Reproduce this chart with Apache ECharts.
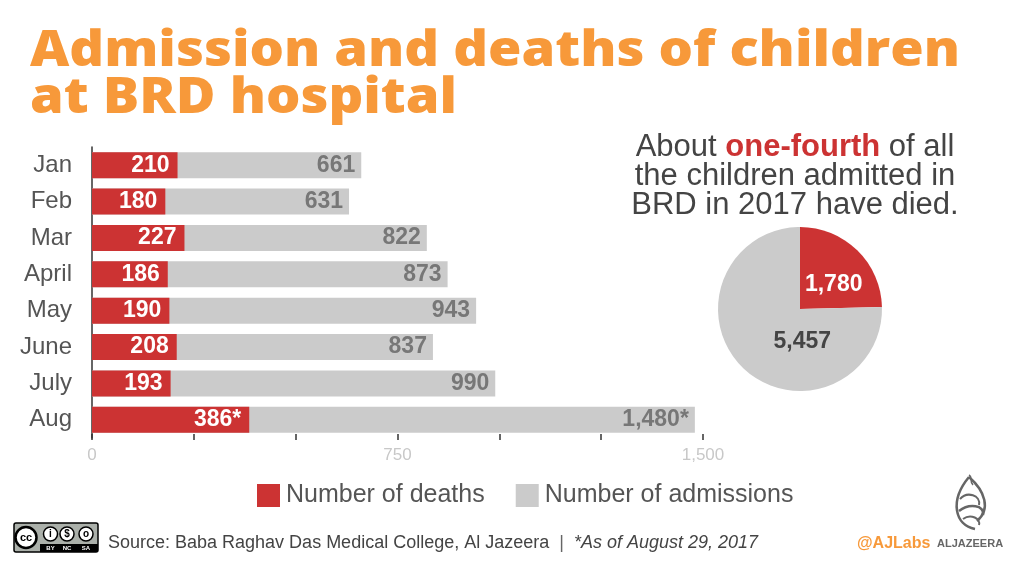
<!DOCTYPE html>
<html>
<head>
<meta charset="utf-8">
<script src="https://cdn.jsdelivr.net/npm/echarts@6/dist/echarts.min.js"></script>
<style>
  html, body { margin: 0; padding: 0; background: #fff; }
  #chart { width: 1015px; height: 561px; }
</style>
</head>
<body>
<div id="chart"></div>
<script>
var chartDom = document.getElementById("chart")
var chart = echarts.init(chartDom)

// data
var months = ["Jan", "Feb", "Mar", "April", "May", "June", "July", "Aug"]
var deaths = [210, 180, 227, 186, 190, 208, 193, 386]
var admissions = [661, 631, 822, 873, 943, 837, 990, 1480]
var starred = [false, false, false, false, false, false, false, true]
var pieNames = ["Deaths", "Survived"]
var pieValues = [1780, 5457]
var axisLabels = ["0", "750", "1,500"]

var RED = "#cc3333"
var GREY = "#cbcbcb"
var sans = "'Liberation Sans', Arial, sans-serif"
var heavy = "'Open Sans', 'Liberation Sans', sans-serif"

function fmt(n) {
  return n.toLocaleString("en-US")
}

function barLabel(p) {
  return fmt(p.value) + (starred[p.dataIndex] ? "*" : "")
}

var pieData = pieValues.map(function (v, i) {
  return {
    name: pieNames[i],
    value: v,
    itemStyle: { color: i === 0 ? RED : GREY },
    label: {
      color: i === 0 ? "#fff" : "#444",
      offset: i === 0 ? [3, 7] : [33, 1],
    },
  }
})

var option = {
  backgroundColor: "#fff",
  animation: false,
  legend: {
    left: 257,
    top: 483,
    padding: 0,
    itemWidth: 23,
    itemHeight: 23,
    itemGap: 31,
    icon: "rect",
    data: ["Number of deaths", "Number of admissions"],
    textStyle: { color: "#555", fontSize: 25, fontFamily: sans, padding: [0, 0, 0, 1] },
  },
  grid: {
    left: 92,
    right: 312,
    top: 147,
    bottom: 123,
    containLabel: false,
  },
  xAxis: {
    type: "value",
    min: 0,
    max: 1500,
    interval: 250,
    offset: -4,
    axisLine: { show: false },
    splitLine: { show: false },
    axisTick: { show: true, length: 6, lineStyle: { color: "#333", width: 1.5 } },
    axisLabel: {
      color: "#c8c8c8",
      fontSize: 17,
      fontFamily: sans,
      margin: 13,
      formatter: function (v) {
        if (v === 0) return axisLabels[0]
        if (v === 750) return axisLabels[1]
        if (v === 1500) return axisLabels[2]
        return ""
      },
    },
  },
  yAxis: {
    type: "category",
    data: months,
    inverse: true,
    axisLine: { show: true, lineStyle: { color: "#333", width: 1.5 } },
    axisTick: { show: false },
    axisLabel: { color: "#555", fontSize: 24, fontFamily: sans, margin: 20 },
  },
  series: [
    {
      name: "Number of admissions",
      type: "bar",
      data: admissions,
      barWidth: 26,
      barGap: "-100%",
      itemStyle: { color: GREY },
      label: {
        show: true,
        position: "insideRight",
        distance: 6,
        color: "#777",
        fontWeight: "bold",
        fontSize: 23,
        fontFamily: sans,
        formatter: barLabel,
      },
    },
    {
      name: "Number of deaths",
      type: "bar",
      data: deaths,
      barWidth: 26,
      barGap: "-100%",
      itemStyle: { color: RED },
      label: {
        show: true,
        position: "insideRight",
        distance: 8,
        color: "#fff",
        fontWeight: "bold",
        fontSize: 23,
        fontFamily: sans,
        formatter: barLabel,
      },
    },
    {
      name: "Total",
      type: "pie",
      center: [800, 309],
      radius: [0, 82],
      startAngle: 90,
      clockwise: true,
      silent: true,
      label: {
        show: true,
        position: "inside",
        fontSize: 23,
        fontWeight: "bold",
        fontFamily: sans,
        formatter: function (p) { return fmt(p.value) },
      },
      labelLine: { show: false },
      data: pieData,
    },
  ],
  graphic: [
    // headline, stretched a little to match the wide heavy face of the original
    {
      type: "text",
      x: 30,
      y: 29,
      scaleX: 1.105,
      style: {
        text: "Admission and deaths of children\nat BRD hospital",
        fill: "#f7993a",
        fontFamily: heavy,
        fontWeight: 800,
        fontSize: 49,
        lineHeight: 47,
        verticalAlign: "top",
      },
    },
    {
      type: "text",
      x: 795,
      y: 133,
      style: {
        align: "center",
        verticalAlign: "top",
        fontFamily: sans,
        fontSize: 31,
        lineHeight: 29,
        fill: "#444",
        text: "{a|About }{b|one-fourth}{a| of all}\n{a|the children admitted in}\n{a|BRD in 2017 have died.}",
        rich: {
          a: { fontSize: 31, fontFamily: sans, fill: "#444", lineHeight: 29 },
          b: { fontSize: 31, fontFamily: sans, fontWeight: "bold", fill: RED, lineHeight: 29 },
        },
      },
    },
    // CC licence badge
    {
      type: "group",
      x: 14,
      y: 523,
      children: [
        { type: "rect", shape: { x: 0, y: 0, width: 84, height: 29, r: 2 }, style: { fill: "#abb0aa", stroke: "#000", lineWidth: 1.5 } },
        { type: "rect", shape: { x: 26, y: 21, width: 58, height: 8 }, style: { fill: "#000" } },
        { type: "circle", shape: { cx: 12, cy: 14.5, r: 10.5 }, style: { fill: "#fff", stroke: "#000", lineWidth: 2.5 } },
        { type: "text", style: { x: 12, y: 14.5, text: "cc", align: "center", verticalAlign: "middle", fontSize: 11, fontWeight: "bold", fontFamily: sans, fill: "#000" } },
        { type: "circle", shape: { cx: 36.5, cy: 11, r: 7 }, style: { fill: "#fff", stroke: "#000", lineWidth: 1.5 } },
        { type: "circle", shape: { cx: 53, cy: 11, r: 7 }, style: { fill: "#fff", stroke: "#000", lineWidth: 1.5 } },
        { type: "circle", shape: { cx: 72, cy: 11, r: 7 }, style: { fill: "#fff", stroke: "#000", lineWidth: 1.5 } },
        { type: "text", style: { x: 36.5, y: 11, text: "i", align: "center", verticalAlign: "middle", fontSize: 10, fontWeight: "bold", fontFamily: sans, fill: "#000" } },
        { type: "text", style: { x: 53, y: 11, text: "$", align: "center", verticalAlign: "middle", fontSize: 10, fontWeight: "bold", fontFamily: sans, fill: "#000" } },
        { type: "text", style: { x: 72, y: 11, text: "o", align: "center", verticalAlign: "middle", fontSize: 10, fontWeight: "bold", fontFamily: sans, fill: "#000" } },
        { type: "text", style: { x: 36.5, y: 25, text: "BY", align: "center", verticalAlign: "middle", fontSize: 6, fontWeight: "bold", fontFamily: sans, fill: "#fff" } },
        { type: "text", style: { x: 53, y: 25, text: "NC", align: "center", verticalAlign: "middle", fontSize: 6, fontWeight: "bold", fontFamily: sans, fill: "#fff" } },
        { type: "text", style: { x: 72, y: 25, text: "SA", align: "center", verticalAlign: "middle", fontSize: 6, fontWeight: "bold", fontFamily: sans, fill: "#fff" } },
      ],
    },
    {
      type: "text",
      x: 108,
      y: 534,
      style: {
        text: "{s|Source: Baba Raghav Das Medical College, Al Jazeera  }{p||}{i|  *As of August 29, 2017}",
        fontFamily: sans,
        fontSize: 18,
        fill: "#444",
        rich: {
          s: { fontFamily: sans, fontSize: 18, fill: "#444" },
          p: { fontFamily: sans, fontSize: 18, fill: "#666" },
          i: { fontFamily: sans, fontSize: 18, fontStyle: "italic", fill: "#444" },
        },
      },
    },
    {
      type: "text",
      x: 857,
      y: 536,
      style: {
        text: "{o|@AJLabs}  {g|ALJAZEERA}",
        rich: {
          o: { fontFamily: sans, fontSize: 16, fontWeight: "bold", fill: "#f7993a" },
          g: { fontFamily: sans, fontSize: 11, fontWeight: "bold", fill: "#666" },
        },
      },
    },
    // rough stand-in for the Al Jazeera calligraphic mark
    {
      type: "group",
      x: 955,
      y: 475,
      children: [
        { type: "bezierCurve", shape: { x1: 14, y1: 2, x2: 20, y2: 54, cpx1: -6, cpy1: 26, cpx2: 0, cpy2: 50 }, style: { fill: null, stroke: "#666", lineWidth: 2.5 } },
        { type: "bezierCurve", shape: { x1: 14, y1: 2, x2: 22, y2: 46, cpx1: 30, cpy1: 16, cpx2: 36, cpy2: 34 }, style: { fill: null, stroke: "#666", lineWidth: 2.5 } },
        { type: "bezierCurve", shape: { x1: 14, y1: 0, x2: 18, y2: 10, cpx1: 18, cpy1: 2, cpx2: 14, cpy2: 6 }, style: { fill: null, stroke: "#666", lineWidth: 1.5 } },
        { type: "bezierCurve", shape: { x1: 5, y1: 24, x2: 24, y2: 30, cpx1: 12, cpy1: 16, cpx2: 26, cpy2: 20 }, style: { fill: null, stroke: "#666", lineWidth: 2 } },
        { type: "bezierCurve", shape: { x1: 4, y1: 36, x2: 28, y2: 40, cpx1: 14, cpy1: 28, cpx2: 30, cpy2: 30 }, style: { fill: null, stroke: "#666", lineWidth: 2.5 } },
        { type: "bezierCurve", shape: { x1: 8, y1: 44, x2: 24, y2: 50, cpx1: 16, cpy1: 38, cpx2: 26, cpy2: 44 }, style: { fill: null, stroke: "#666", lineWidth: 2 } },
      ],
    },
  ],
}

chart.setOption(option)
</script>
</body>
</html>
